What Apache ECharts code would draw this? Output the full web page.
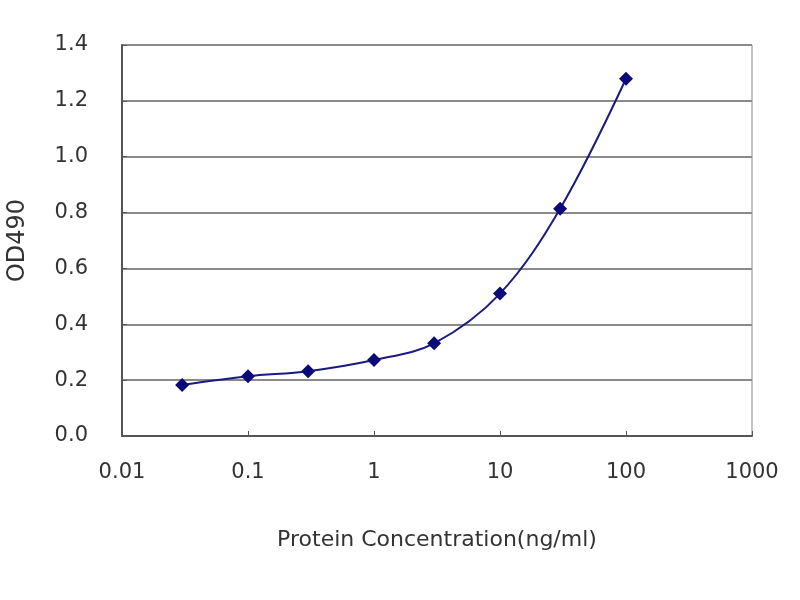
<!DOCTYPE html>
<html>
<head>
<meta charset="utf-8">
<script src="https://cdn.jsdelivr.net/npm/echarts@6/dist/echarts.min.js"></script>
<style>html,body{margin:0;padding:0;background:#fff}#c{width:800px;height:600px}</style>
</head>
<body>
<div id="c"></div>
<script>
const concentrations = [0.03, 0.1, 0.3, 1, 3, 10, 30, 100];
const odValues = [0.183, 0.214, 0.232, 0.272, 0.332, 0.51, 0.814, 1.279];
const xTickLabels = ['0.01', '0.1', '1', '10', '100', '1000'];
const xAxisTitle = 'Protein Concentration(ng/ml)';
const yAxisTitle = 'OD490';

const chart = echarts.init(document.getElementById('c'));
const font = 'DejaVu Sans, sans-serif';
chart.setOption({
  animation: false,
  backgroundColor: '#fff',
  grid: { left: 122, right: 48, top: 45, bottom: 164, containLabel: false, outerBoundsMode: 'none',
          show: true, borderColor: '#8a8a8a', borderWidth: 1, backgroundColor: '#fff' },
  xAxis: {
    type: 'log', logBase: 10, min: 0.01, max: 1000,
    name: xAxisTitle, nameLocation: 'middle', nameGap: 93,
    nameTextStyle: { fontFamily: font, fontSize: 22, color: '#333' },
    axisLine: { lineStyle: { color: '#555', width: 2 } },
    axisTick: { inside: true, length: 5, lineStyle: { color: '#555' } },
    minorTick: { show: false },
    splitLine: { show: false },
    axisLabel: {
      fontFamily: font, fontSize: 21, color: '#333', margin: 26,
      formatter: function (v) {
        const idx = Math.round(Math.log10(v)) + 2;
        return xTickLabels[idx] !== undefined ? xTickLabels[idx] : '';
      }
    }
  },
  yAxis: {
    type: 'value', min: 0, max: 1.4, interval: 0.2,
    name: yAxisTitle, nameLocation: 'middle', nameGap: 92, nameRotate: 90,
    nameTextStyle: { fontFamily: font, fontSize: 24, color: '#333' },
    axisLine: { show: true, lineStyle: { color: '#555', width: 2 } },
    axisTick: { show: true, inside: true, length: 5, lineStyle: { color: '#555' } },
    splitLine: { lineStyle: { color: '#8a8a8a', width: 2 } },
    axisLabel: {
      fontFamily: font, fontSize: 21, color: '#333', margin: 34,
      formatter: function (v) { return v.toFixed(1); }
    }
  },
  series: [{
    type: 'line',
    data: concentrations.map((c, i) => [c, odValues[i]]),
    smooth: 0.35,
    symbol: 'diamond',
    symbolSize: 14,
    lineStyle: { color: '#1a1a80', width: 2 },
    itemStyle: { color: '#0a0a78' }
  }]
});
</script>
</body>
</html>
